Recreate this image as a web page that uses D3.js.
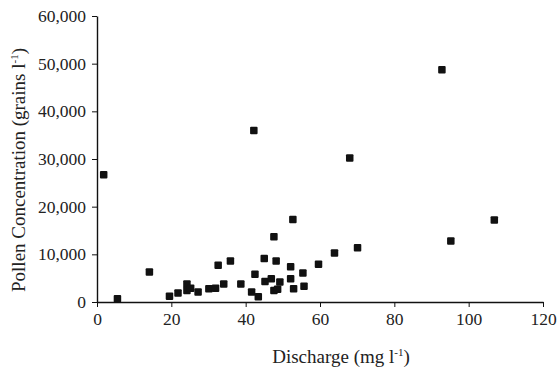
<!DOCTYPE html>
<html>
<head>
<meta charset="utf-8">
<script src="https://cdn.jsdelivr.net/npm/d3@7"></script>
<style>
  body { margin: 0; background: #fff; }
  svg text { font-family: "Liberation Serif", "DejaVu Serif", serif; fill: #222; }
</style>
</head>
<body>
<figure id="chart" style="margin:0"></figure>
<script>
// discharge (mg l-1) and pollen concentration (grains l-1)
const discharge = [1.8, 5.5, 14.1, 19.5, 21.8, 24.2, 24.2, 25.2, 27.2, 30.1,
  31.9, 32.6, 34.1, 35.9, 38.7, 41.6, 43.4, 42.5, 45.0, 45.2,
  52.7, 47.6, 48.2, 63.9, 70.1, 59.6, 52.1, 55.4, 46.9, 49.2,
  52.1, 47.6, 48.6, 52.9, 55.7, 42.2, 68.0, 92.8, 95.2, 106.9];
const pollen = [26700, 700, 6300, 1200, 1900, 3800, 2400, 2900, 2100, 2800,
  2900, 7700, 3800, 8600, 3800, 2100, 1100, 5800, 9100, 4300,
  17300, 13700, 8600, 10300, 11400, 7900, 7400, 6100, 4900, 4200,
  4900, 2400, 2700, 2800, 3300, 36000, 30200, 48700, 12800, 17200];
const xTicks = [0, 20, 40, 60, 80, 100, 120];
const yTicks = [0, 10000, 20000, 30000, 40000, 50000, 60000];

class ScatterChart {
  constructor() {
    this.width = 557;
    this.height = 367;
    this.margin = { top: 16, right: 14, bottom: 65, left: 97 };
    this.markerSize = 7.5;
    this.tickFont = 17.5;
    this.titleFont = 19;
  }

  init() {
    this.svg = d3.select("figure#chart").append("svg")
      .attr("width", this.width)
      .attr("height", this.height);
    this.x = d3.scaleLinear()
      .domain([0, 120])
      .range([this.margin.left, this.width - this.margin.right]);
    this.y = d3.scaleLinear()
      .domain([0, 60000])
      .range([this.height - this.margin.bottom, this.margin.top]);
  }

  draw() {
    this.drawAxes();
    this.drawPoints();
    this.drawTitles();
  }

  drawAxes() {
    const xAxis = d3.axisBottom(this.x)
      .tickValues(xTicks)
      .tickSize(5)
      .tickSizeOuter(0)
      .tickPadding(6);
    const yAxis = d3.axisLeft(this.y)
      .tickValues(yTicks)
      .tickFormat(d3.format(","))
      .tickSize(5)
      .tickSizeOuter(0)
      .tickPadding(6);

    const gx = this.svg.append("g")
      .attr("transform", `translate(0,${this.y(0)})`)
      .call(xAxis);
    const gy = this.svg.append("g")
      .attr("transform", `translate(${this.x(0)},0)`)
      .call(yAxis);

    [gx, gy].forEach(g => {
      g.selectAll("path.domain").attr("stroke", "#111").attr("stroke-width", 1.4);
      g.selectAll(".tick line").attr("stroke", "#111").attr("stroke-width", 1);
      g.selectAll(".tick text")
        .style("font-family", "Liberation Serif, serif")
        .style("font-size", this.tickFont + "px")
        .attr("fill", "#222");
    });
  }

  drawPoints() {
    const s = this.markerSize;
    this.svg.append("g")
      .selectAll("rect")
      .data(discharge.map((d, i) => ({ q: d, c: pollen[i] })))
      .enter()
      .append("rect")
      .attr("x", d => this.x(d.q) - s / 2)
      .attr("y", d => this.y(d.c) - s / 2)
      .attr("width", s)
      .attr("height", s)
      .attr("rx", 1)
      .attr("fill", "#111");
  }

  drawTitles() {
    const xt = this.svg.append("text")
      .attr("x", 341)
      .attr("y", 363)
      .attr("text-anchor", "middle")
      .style("font-size", this.titleFont + "px");
    xt.append("tspan").text("Discharge (mg l");
    xt.append("tspan").text("-1").attr("dy", -7).style("font-size", "11px");
    xt.append("tspan").text(")").attr("dy", 7);

    const yt = this.svg.append("text")
      .attr("transform", "translate(25,170) rotate(-90)")
      .attr("text-anchor", "middle")
      .style("font-size", this.titleFont + "px");
    yt.append("tspan").text("Pollen Concentration (grains l");
    yt.append("tspan").text("-1").attr("dy", -7).style("font-size", "11px");
    yt.append("tspan").text(")").attr("dy", 7);
  }
}

const chart = new ScatterChart();
chart.init();
chart.draw();
</script>
</body>
</html>
